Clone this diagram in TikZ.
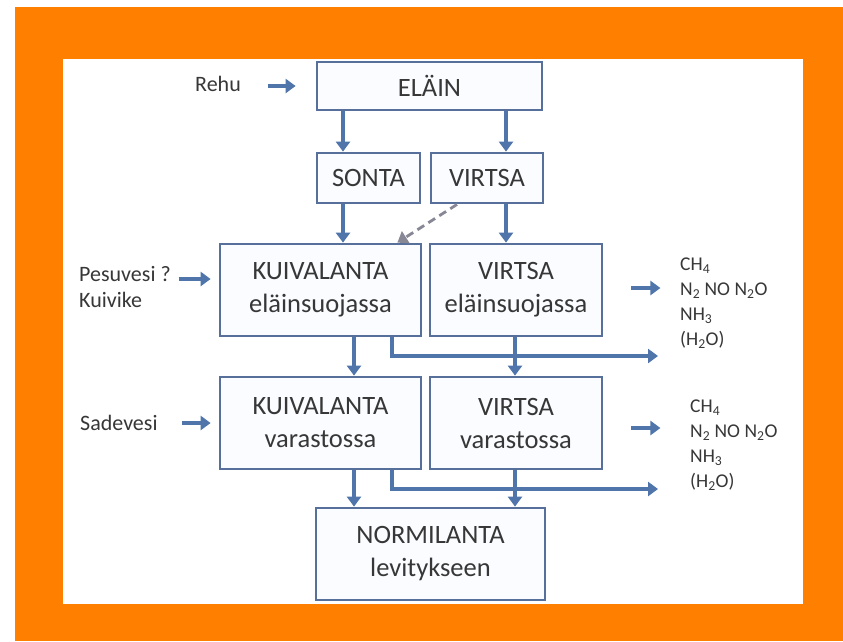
\documentclass[tikz,border=0pt]{standalone}
\usepackage{fontspec}
\setmainfont{Carlito}
\usetikzlibrary{arrows.meta,calc}
\definecolor{orng}{RGB}{255,128,0}
\definecolor{boxline}{RGB}{86,112,155}
\definecolor{boxfill}{RGB}{250,252,255}
\definecolor{arrcol}{RGB}{79,117,170}
\definecolor{txt}{RGB}{55,55,55}
\definecolor{dashcol}{RGB}{135,135,150}
\begin{document}
\begin{tikzpicture}[x=1pt,y=-1pt,
  box/.style={draw=boxline, line width=2.8pt, fill=boxfill, text=txt,
    font=\fontsize{26.5}{33}\selectfont, align=center, inner sep=0pt},
  arr/.style={draw=arrcol, line width=3.4pt, -{Triangle[length=10pt,width=14pt]}},
  lbl/.style={text=txt, font=\fontsize{22}{26}\selectfont, inner sep=0pt},
  gas/.style={text=txt, font=\fontsize{19.5}{25}\selectfont, inner sep=0pt}]
\useasboundingbox (0,0) rectangle (843,641);
\fill[white] (0,0) rectangle (843,641);
\fill[orng] (15,7) rectangle (843,641);
\fill[white] (63,59) rectangle (803,604);

\node[box, minimum width=225pt, minimum height=48pt] (elain) at (429.5,86) {ELÄIN};
\node[box, minimum width=103pt, minimum height=50pt] (sonta) at (368.5,178) {SONTA};
\node[box, minimum width=112pt, minimum height=50pt] (virtsa) at (487,178) {VIRTSA};
\node[box, minimum width=201pt, minimum height=92pt] (kuiv1) at (320.5,290) {KUIVALANTA\\eläinsuojassa};
\node[box, minimum width=172pt, minimum height=92pt] (virt1) at (516,290) {VIRTSA\\eläinsuojassa};
\node[box, minimum width=201pt, minimum height=92pt] (kuiv2) at (320.5,423) {KUIVALANTA\\varastossa};
\node[box, minimum width=172pt, minimum height=92pt] (virt2) at (516,423) {VIRTSA\\varastossa};
\node[box, minimum width=229pt, minimum height=92pt] (norm) at (430.5,554) {NORMILANTA\\levitykseen};

\node[lbl, anchor=west] (rehu) at (195,84) {Rehu};
\node[lbl, anchor=west, align=left] (pesu) at (79,287) {Pesuvesi ?\\Kuivike};
\node[lbl, anchor=west] (sade) at (80,423) {Sadevesi};
\node[gas, anchor=west, align=left] (gas1) at (680,303) {CH\textsubscript{4}\\N\textsubscript{2} NO N\textsubscript{2}O\\NH\textsubscript{3}\\(H\textsubscript{2}O)};
\node[gas, anchor=west, align=left] (gas2) at (690,445) {CH\textsubscript{4}\\N\textsubscript{2} NO N\textsubscript{2}O\\NH\textsubscript{3}\\(H\textsubscript{2}O)};

\coordinate (xa) at (343,0);
\coordinate (xb) at (506,0);
\coordinate (xc) at (354,0);
\coordinate (xd) at (515,0);
\coordinate (xe) at (392,0);
\coordinate (g1) at (658,356);
\coordinate (g2) at (658,489);

\draw[arr] ([xshift=-48pt]elain.west) -- ([xshift=-20pt]elain.west);
\draw[arr] ([xshift=-40pt,yshift=11pt]kuiv1.west) -- ([xshift=-8pt,yshift=11pt]kuiv1.west);
\draw[arr] ([xshift=-37pt]kuiv2.west) -- ([xshift=-8pt]kuiv2.west);
\draw[arr] ([xshift=28pt,yshift=2pt]virt1.east) -- ([xshift=57pt,yshift=2pt]virt1.east);
\draw[arr] ([xshift=28pt,yshift=-5pt]virt2.east) -- ([xshift=57pt,yshift=-5pt]virt2.east);

\draw[arr] (xe |- kuiv1.south) |- (g1);
\draw[arr] (xe |- kuiv2.south) |- (g2);

\draw[arr] (xa |- elain.south) -- (xa |- sonta.north);
\draw[arr] (xb |- elain.south) -- (xb |- virtsa.north);
\draw[arr] (xa |- sonta.south) -- (xa |- kuiv1.north);
\draw[arr] (xb |- virtsa.south) -- (xb |- virt1.north);
\draw[arr] (xc |- kuiv1.south) -- (xc |- kuiv2.north);
\draw[arr] (xd |- virt1.south) -- (xd |- virt2.north);
\draw[arr] (xc |- kuiv2.south) -- (xc |- norm.north);
\draw[arr] (xd |- virt2.south) -- (xd |- norm.north);

\draw[dashcol, line width=2.8pt, dash pattern=on 8pt off 5pt,
  -{Triangle[length=10pt,width=14pt]}] ([xshift=-30pt]virtsa.south) -- ([xshift=-25pt]kuiv1.north east);
\end{tikzpicture}
\end{document}
